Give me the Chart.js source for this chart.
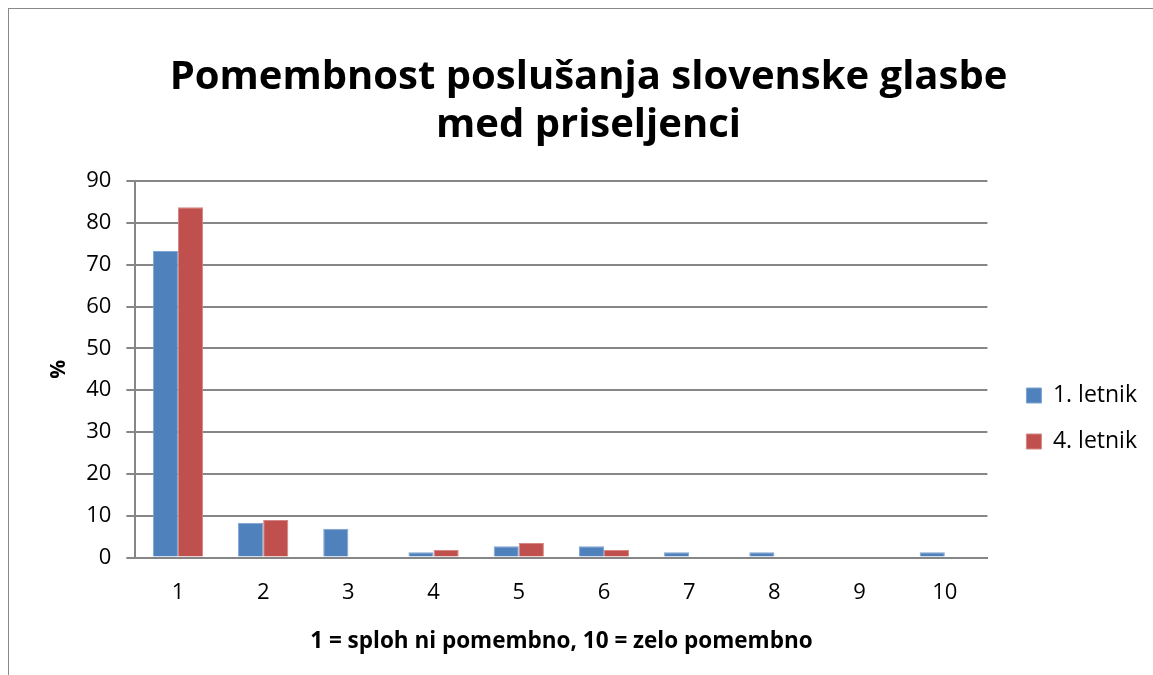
<!DOCTYPE html>
<html>
<head>
<meta charset="utf-8">
<script src="https://cdn.jsdelivr.net/npm/chart.js@4/dist/chart.umd.min.js"></script>
<style>
  body { margin: 0; background: #fff; }
  .frame { position: absolute; left: 8px; top: 8px; width: 1150px; height: 680px; border: 1px solid #898989; box-sizing: border-box; }
  .chart-box { position: absolute; left: 0; top: 0; width: 1150px; height: 666px; }
</style>
</head>
<body>
<div class="frame"><div class="chart-box"><canvas id="chart"></canvas></div></div>
<script>
const categories = ['1', '2', '3', '4', '5', '6', '7', '8', '9', '10'];
const firstYear = [73.3, 8.3, 6.9, 1.3, 2.7, 2.7, 1.3, 1.3, 0, 1.3];
const fourthYear = [83.7, 9.0, 0, 1.8, 3.5, 1.8, 0, 0, 0, 0];
const seriesNames = ['1. letnik', '4. letnik'];
const yTicks = [0, 10, 20, 30, 40, 50, 60, 70, 80, 90];

Chart.defaults.font.family = "'Open Sans', sans-serif";
Chart.defaults.color = '#000';

// nudge legend (right + down) and title (left) to where Excel put them
const nudge = {
    id: 'nudge',
    beforeInit(chart) {
        const fit = chart.legend.fit;
        chart.legend.fit = function () { fit.bind(chart.legend)(); this.width += 18; };
    },
    afterLayout(chart) {
        const lg = chart.legend;
        lg.left += 16; lg.right += 16;
        lg.top += 66; lg.bottom += 66;
        chart.titleBlock.left -= 7; chart.titleBlock.right -= 7;
    }
};

new Chart(document.getElementById('chart'), {
    type: 'bar',
    data: {
        labels: categories,
        datasets: [
            { label: seriesNames[0], data: firstYear, backgroundColor: '#4F81BD', borderColor: '#7FA3D3', borderWidth: 1 },
            { label: seriesNames[1], data: fourthYear, backgroundColor: '#C0504D', borderColor: '#D58582', borderWidth: 1 }
        ]
    },
    plugins: [nudge],
    options: {
        responsive: true, maintainAspectRatio: false, animation: false,
        datasets: { bar: { categoryPercentage: 0.59, barPercentage: 1 } },
        layout: { padding: { left: 33, right: 10, top: 37, bottom: 16 } },
        plugins: {
            title: {
                display: true,
                text: ['Pomembnost poslušanja slovenske glasbe', 'med priseljenci'],
                font: { size: 40, weight: 'bold' }, color: '#000',
                padding: { top: 8, bottom: 31 }, lineHeight: 1.3
            },
            legend: {
                position: 'right',
                labels: { boxWidth: 15, boxHeight: 15, padding: 23, font: { size: 23 }, color: '#000' }
            },
            tooltip: { enabled: false }
        },
        scales: {
            x: {
                grid: { display: false, drawTicks: false },
                border: { color: '#868686', width: 2 },
                ticks: { font: { size: 22 }, padding: 22 },
                title: { display: true, text: '1 = sploh ni pomembno, 10 = zelo pomembno', font: { size: 22.5, weight: 'bold' }, padding: { top: 0 } }
            },
            y: {
                min: 0, max: 90,
                afterBuildTicks: axis => { axis.ticks = yTicks.map(v => ({ value: v })); },
                grid: { color: '#868686', lineWidth: 2, tickLength: 9 },
                border: { color: '#868686', width: 2 },
                ticks: { font: { size: 22 }, padding: 15 },
                title: { display: true, text: '%', font: { size: 21, weight: 'bold' }, padding: { bottom: 0 } }
            }
        }
    }
});
</script>
</body>
</html>
